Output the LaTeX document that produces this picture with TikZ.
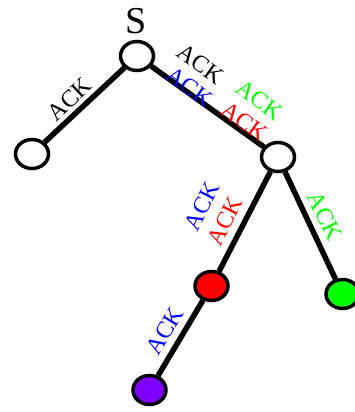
\documentclass[tikz,border=0pt]{standalone}
\usepackage{fontspec}
\setmainfont{Liberation Serif}
\usepackage{tikz}
\usetikzlibrary{shapes.geometric}
\definecolor{ackblue}{RGB}{0,0,255}
\definecolor{ackred}{RGB}{255,0,0}
\definecolor{ackgreen}{RGB}{0,255,0}
\definecolor{ackpurple}{RGB}{127,0,255}
\tikzset{
  hop/.style={ellipse, draw, line width=3.5pt, fill=white, minimum width=33pt, minimum height=29pt, inner sep=0pt},
  link/.style={line width=5.5pt},
  ack/.style={font=\fontsize{24}{24}\selectfont, inner sep=0pt}
}

\begin{document}
\begin{tikzpicture}[x=1pt, y=1pt]
  \useasboundingbox (0,0) rectangle (355,-412);

  \node[hop] (s) at (137,-56) {};
  \node[font=\fontsize{38}{38}\selectfont] (slabel) at (136,-21) {S};
  \node[hop] (left) at (32,-154) {};
  \node[hop] (right) at (278,-157) {};
  \node[hop, fill=ackred] (red) at (211.5,-286) {};
  \node[hop, fill=ackgreen] (green) at (342.5,-294) {};
  \node[hop, fill=ackpurple] (purple) at (149.5,-390) {};

  \draw[link] (s) -- (left);
  \draw[link] (s) -- (right);
  \draw[link] (right) -- (red);
  \draw[link] (right) -- (green);
  \draw[link] (red) -- (purple);

  %% S -> left
  \node[ack, rotate=43.6] (a1) at (69.5,-99.5) {ACK};
  %% S -> right
  \node[ack, rotate=-35.6] (a2) at (201,-64) {ACK};
  \node[ack, rotate=-35.6, text=ackblue] (a3) at (190,-87) {ACK};
  \node[ack, rotate=-35.6, text=ackgreen] (a4) at (259.5,-100) {ACK};
  \node[ack, rotate=-35.6, text=ackred] (a5) at (245,-121.5) {ACK};
  %% right -> red
  \node[ack, rotate=63, text=ackblue] (a6) at (202,-206) {ACK};
  \node[ack, rotate=63, text=ackred] (a7) at (225,-221) {ACK};
  %% right -> green
  \node[ack, rotate=-64, text=ackgreen] (a8) at (325,-216) {ACK};
  %% red -> purple
  \node[ack, rotate=58.7, text=ackblue] (a9) at (165,-331) {ACK};

\end{tikzpicture}
\end{document}
